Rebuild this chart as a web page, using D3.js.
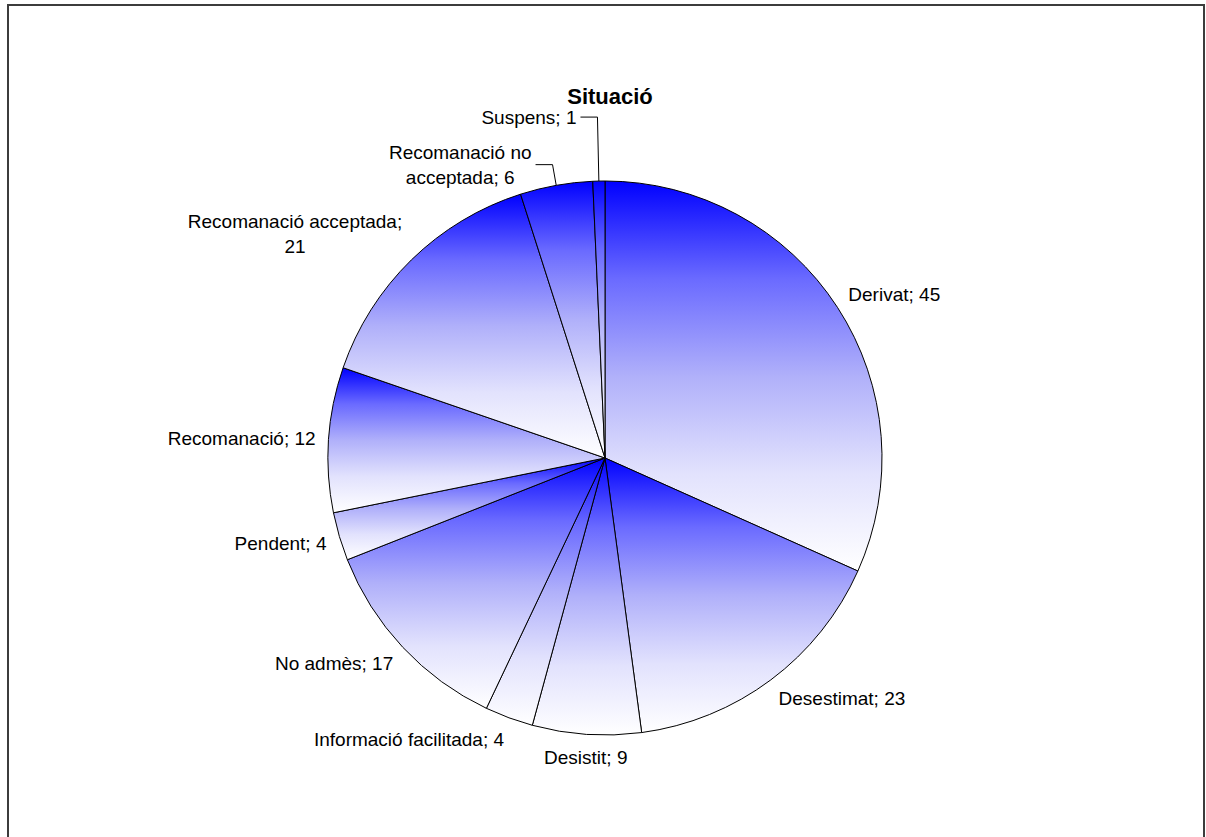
<!DOCTYPE html>
<html>
<head>
<meta charset="utf-8">
<script src="https://cdn.jsdelivr.net/npm/d3@7"></script>
<style>
  body { margin: 0; background: #fff; }
  svg { display: block; font-family: "Liberation Sans", Arial, sans-serif; }
</style>
</head>
<body>
<div id="pieplot"></div>
<script>
// Data
const TITLE = "Situació";
const categories = ["Derivat", "Desestimat", "Desistit", "Informació facilitada", "No admès",
    "Pendent", "Recomanació", "Recomanació acceptada", "Recomanació no acceptada", "Suspens"];
const values = [45, 23, 9, 4, 17, 4, 12, 21, 6, 1];
// how each label wraps ("|" = line break)
const labelText = ["Derivat; 45", "Desestimat; 23", "Desistit; 9", "Informació facilitada; 4",
    "No admès; 17", "Pendent; 4", "Recomanació; 12", "Recomanació acceptada;|21",
    "Recomanació no|acceptada; 6", "Suspens; 1"];
// labels pulled out with a leader line (extra radius)
const leaderLabels = { "Recomanació no acceptada": 21, "Suspens": 64 };

const WIDTH = 1206, HEIGHT = 837;
const FONT_SIZE = 19;
const CX = 605, CY = 458, RADIUS = 277;
const LABEL_R = RADIUS + 13;

const svg = d3.select('#pieplot')
    .append('svg')
    .attr('width', WIDTH)
    .attr('height', HEIGHT);

svg.append('rect')
    .attr('x', 8).attr('y', 5)
    .attr('width', 1196).attr('height', 860)
    .attr('fill', '#fff')
    .attr('stroke', '#3c3c3c')
    .attr('stroke-width', 2);

// vertical blue -> white gradient, applied per slice bounding box
// (fades to white faster than linear, like the original)
const grad = svg.append('defs').append('linearGradient')
    .attr('id', 'sliceGrad')
    .attr('x1', 0).attr('y1', 0).attr('x2', 0).attr('y2', 1);
[[0, '#0000ff'], [25, '#6a6aff'], [50, '#b0b0fa'], [75, '#e2e2fd'], [100, '#ffffff']].forEach(s => {
    grad.append('stop').attr('offset', s[0] + '%').attr('stop-color', s[1]);
});

svg.append('text')
    .attr('x', 610)
    .attr('y', 104)
    .attr('text-anchor', 'middle')
    .style('font-size', '22px')
    .style('font-weight', 'bold')
    .text(TITLE);

const data = categories.map((c, i) => ({ category: c, value: values[i], label: labelText[i] }));

const pie = d3.pie().sort(null).value(d => d.value);
const arcs = pie(data);

const arcGenerator = d3.arc().innerRadius(0).outerRadius(RADIUS);

const g = svg.append('g').attr('transform', `translate(${CX}, ${CY})`);

g.selectAll('path')
    .data(arcs)
    .enter()
    .append('path')
    .attr('d', arcGenerator)
    .attr('fill', 'url(#sliceGrad)')
    .attr('stroke', '#000')
    .style('stroke-width', '1px');

const polar = (r, a) => [r * Math.sin(a), -r * Math.cos(a)];

const labels = g.append('g');

arcs.forEach(d => {
    const mid = (d.startAngle + d.endAngle) / 2;
    const s = Math.sin(mid), c = Math.cos(mid);
    const lines = d.data.label.split('|');
    const t = labels.append('text')
        .attr('text-anchor', 'middle')
        .style('font-size', `${FONT_SIZE}px`)
        .attr('fill', '#000');
    lines.forEach((ln, i) => {
        t.append('tspan').attr('x', 0).attr('dy', i === 0 ? 0 : FONT_SIZE * 1.33).text(ln);
    });
    const bb = t.node().getBBox();
    const w = bb.width, h = bb.height;
    let cx, cy;
    const extra = leaderLabels[d.data.category];
    if (extra !== undefined) {
        const edge = polar(RADIUS, mid);
        const elbow = polar(RADIUS + extra, mid);
        labels.append('path')
            .attr('d', d3.line()([edge, elbow, [elbow[0] - 17, elbow[1]]]))
            .attr('fill', 'none')
            .attr('stroke', '#000')
            .style('stroke-width', '1px');
        cx = elbow[0] - 21 - w / 2;
        cy = elbow[1];
    } else {
        const p = polar(LABEL_R, mid);
        cx = Math.abs(s) > 0.25 ? p[0] + Math.sign(s) * w / 2 : p[0];
        cy = p[1] - c * h / 2;
    }
    // shift so the bbox centre lands on (cx, cy)
    const dx = cx - (bb.x + w / 2), dy = cy - (bb.y + h / 2);
    t.attr('transform', `translate(${dx}, ${dy})`);
});
</script>
</body>
</html>
